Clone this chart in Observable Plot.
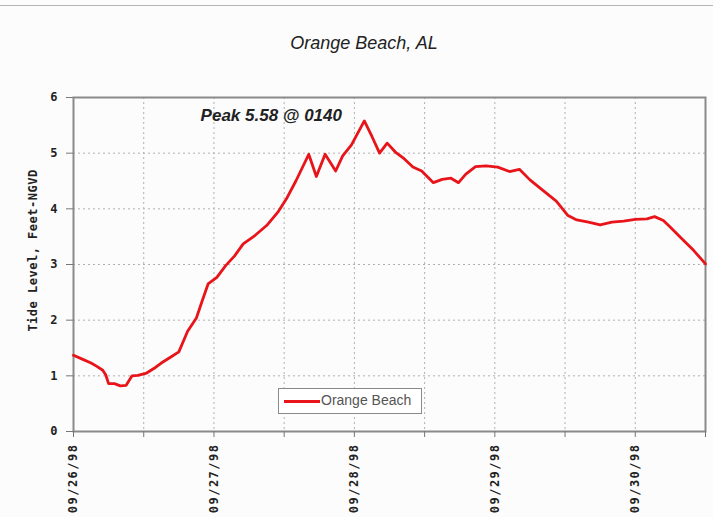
<!DOCTYPE html>
<html>
<head>
<meta charset="utf-8">
<script src="https://cdn.jsdelivr.net/npm/d3@7"></script>
<script src="https://cdn.jsdelivr.net/npm/@observablehq/plot@0.6"></script>
<style>
  html, body { margin: 0; padding: 0; background: #fcfcfc; }
  #wrap { position: relative; width: 713px; height: 517px; overflow: hidden; }
  #topline { position: absolute; left: 0; top: 5px; width: 713px; height: 1px; background: #b5b5b5; }
  #title { position: absolute; left: 0; top: 33px; width: 728px; text-align: center;
           font: italic 18px "Liberation Sans", Arial, sans-serif; color: #222; }
  #legend { position: absolute; left: 278px; top: 388px; width: 144px; height: 26px;
            border: 1.5px solid #8a8a8a; background: #fff; box-sizing: border-box;
            font: 14px "Liberation Sans", Arial, sans-serif; color: #555; }
  #legend .swatch { position: absolute; left: 5px; top: 11px; width: 36px; height: 2.5px; background: #e8141a; }
  #legend .lbl { position: absolute; left: 42px; top: 3px; }
</style>
</head>
<body>
<div id="wrap">
  <div id="topline"></div>
  <div id="chart"></div>
  <div id="title"></div>
  <div id="legend"><div class="swatch"></div><div class="lbl"></div></div>
</div>
<script>
// Hours since 09/26/98 00:00
const hours = [0,1.5,3,4,5,5.5,6,7,8,9,10,11,12.5,14,15,16.5,18,19.5,21,22,23,24.5,26,27.5,29,31,33,35,36.5,38,40.2,41.5,43,44.8,46,47.5,49.7,51,52.3,53.6,55,56.5,58,59.5,61.5,63,64.5,65.8,67,68.7,70.5,72.5,74.5,76.2,78,80,82.5,84.5,86,88,90,92,94,96,98,99.3,100.8,102,104,106,108];
// Tide level, feet NGVD
const levels = [1.37,1.30,1.23,1.17,1.10,1.02,0.86,0.86,0.82,0.83,1.00,1.01,1.05,1.15,1.23,1.33,1.43,1.80,2.04,2.35,2.65,2.77,2.98,3.15,3.37,3.52,3.70,3.95,4.20,4.50,4.98,4.58,4.98,4.68,4.95,5.15,5.58,5.30,5.00,5.18,5.02,4.90,4.75,4.68,4.47,4.53,4.55,4.47,4.62,4.76,4.77,4.75,4.67,4.71,4.52,4.35,4.14,3.88,3.80,3.76,3.71,3.76,3.78,3.81,3.82,3.86,3.79,3.67,3.46,3.25,3.01];
const dayTicks = [0, 24, 48, 72, 96];
const dayTickLabels = ["09/26/98", "09/27/98", "09/28/98", "09/29/98", "09/30/98"];
const halfDayTicks = [0, 12, 24, 36, 48, 60, 72, 84, 96, 108];
const yTicks = [0, 1, 2, 3, 4, 5, 6];
const titleText = "Orange Beach, AL";
const seriesName = "Orange Beach";
const yLabel = "Tide Level, Feet-NGVD";
const peakNote = [{text: "Peak 5.58 @ 0140", hour: 33.8, level: 5.68}];

const data = hours.map((h, i) => ({hour: h, level: levels[i]}));

document.getElementById("title").textContent = titleText;
document.querySelector("#legend .lbl").textContent = seriesName;

const mono = "'DejaVu Sans Mono', 'Liberation Mono', monospace";
const red = "#e8141a";

const chart = Plot.plot({
  width: 713,
  height: 517,
  marginLeft: 73,
  marginRight: 8,
  marginTop: 97,
  marginBottom: 86,
  style: {background: "transparent", overflow: "visible"},
  x: {domain: [0, 108]},
  y: {domain: [0, 6]},
  marks: [
    Plot.gridY(yTicks, {stroke: "#b0b0b0", strokeOpacity: 1, strokeDasharray: "2,3"}),
    Plot.gridX(halfDayTicks, {stroke: "#b0b0b0", strokeOpacity: 1, strokeDasharray: "2,3"}),
    Plot.frame({stroke: "#8a8a8a", strokeWidth: 2}),
    Plot.axisY({ticks: yTicks, tickSize: 7, tickPadding: 9, label: null, tickFormat: d3.format("d"),
                fontFamily: mono, fontWeight: "bold", fontSize: 12, stroke: "#777", fill: "#222"}),
    Plot.axisX({ticks: halfDayTicks, tickSize: 6, tickPadding: 6, label: null, tickRotate: -90,
                tickFormat: d => (d % 24 === 0 && d / 24 < dayTickLabels.length) ? dayTickLabels[d / 24] : "",
                fontFamily: mono, fontWeight: "bold", fontSize: 12, stroke: "#777", fill: "#222"}),
    Plot.text([yLabel], {frameAnchor: "left", rotate: -90, dx: -40, dy: -14, textAnchor: "middle",
                fontFamily: mono, fontWeight: "bold", fontSize: 12, fill: "#222"}),
    Plot.line(data, {x: "hour", y: "level", stroke: red, strokeWidth: 2.8, curve: "linear", strokeLinejoin: "round"}),
    Plot.text(peakNote, {x: "hour", y: "level", text: "text", fontFamily: "'Liberation Sans', Arial, sans-serif",
                fontWeight: "bold", fontStyle: "italic", fontSize: 17, fill: "#222"})
  ]
});
document.getElementById("chart").appendChild(chart);
// letter spacing for the monospace axis text to match the wide original glyph spacing
chart.querySelectorAll("g[aria-label='x-axis tick label']").forEach(g => g.setAttribute("letter-spacing", "1.5"));
chart.querySelectorAll("g[aria-label='text'] text").forEach(t => {
  if (t.textContent === yLabel) t.setAttribute("letter-spacing", "0.5");
});
</script>
</body>
</html>
